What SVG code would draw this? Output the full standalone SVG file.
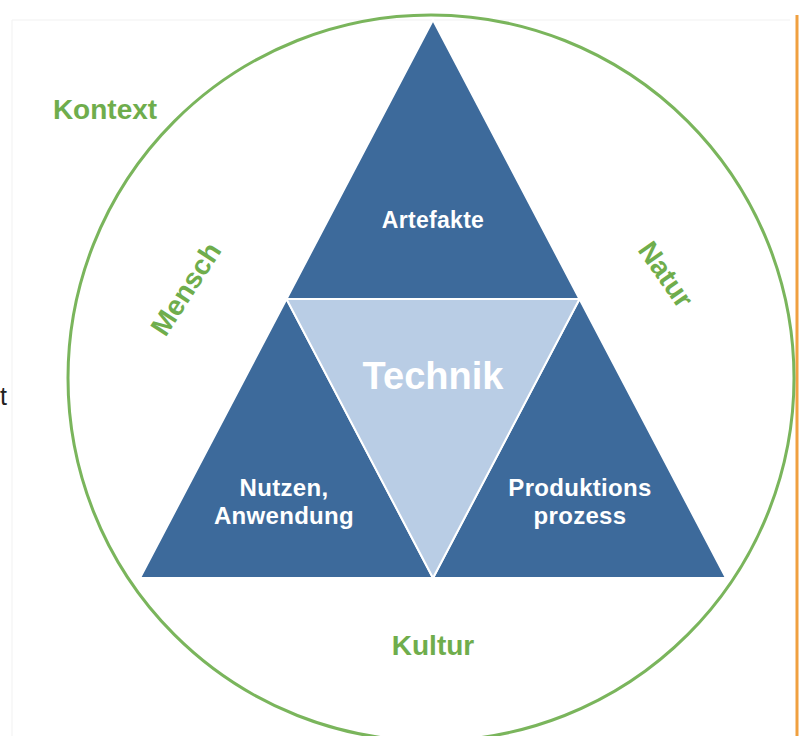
<svg xmlns="http://www.w3.org/2000/svg" width="800" height="736" viewBox="0 0 800 736">
<style>
.g{fill:#6fad4c;font-family:"Liberation Sans",Arial,sans-serif;font-weight:bold;text-anchor:middle}
.w{fill:#ffffff;font-family:"Liberation Sans",Arial,sans-serif;font-weight:bold;text-anchor:middle}
.dark{fill:#3d6a9b;stroke:#ffffff;stroke-width:2}
.light{fill:#b9cde5;stroke:#ffffff;stroke-width:2}
</style>
<rect width="800" height="736" fill="#ffffff"/>
<path d="M12 736 V20 H790" fill="none" stroke="#f1f1f1" stroke-width="1"/>
<line x1="797" y1="15" x2="797" y2="736" stroke="#f0a040" stroke-width="3"/>
<text x="0" y="405" font-family="Liberation Sans, Arial, sans-serif" font-size="25" fill="#222">t</text>
<g id="context">
<circle cx="431" cy="378" r="363" fill="none" stroke="#7ab55c" stroke-width="3"/>
</g>
<g id="artefakte">
<polygon class="dark" points="433,20 286.5,299 579.5,299"/>
<text class="w" x="433" y="228" font-size="23" letter-spacing="0.3">Artefakte</text>
</g>
<g id="nutzen">
<polygon class="dark" points="286.5,299 140,578 433,578"/>
<text class="w" x="284" y="496" font-size="24" letter-spacing="0.3">Nutzen,</text>
<text class="w" x="284" y="524" font-size="24" letter-spacing="0.3">Anwendung</text>
</g>
<g id="produktion">
<polygon class="dark" points="579.5,299 433,578 726,578"/>
<text class="w" x="580" y="496" font-size="24" letter-spacing="0.3">Produktions</text>
<text class="w" x="580" y="524" font-size="24" letter-spacing="0.3">prozess</text>
</g>
<g id="technik">
<polygon class="light" points="286.5,299 579.5,299 433,578"/>
<text class="w" x="433" y="389" font-size="38">Technik</text>
</g>
<g id="labels">
<text class="g" x="105" y="119" font-size="28">Kontext</text>
<text class="g" x="433" y="655" font-size="28">Kultur</text>
<text class="g" x="0" y="0" font-size="28" transform="translate(194,294) rotate(-57)">Mensch</text>
<text class="g" x="0" y="0" font-size="28" transform="translate(658,280) rotate(55)">Natur</text>
</g>
<g id="connectors"></g>
</svg>
